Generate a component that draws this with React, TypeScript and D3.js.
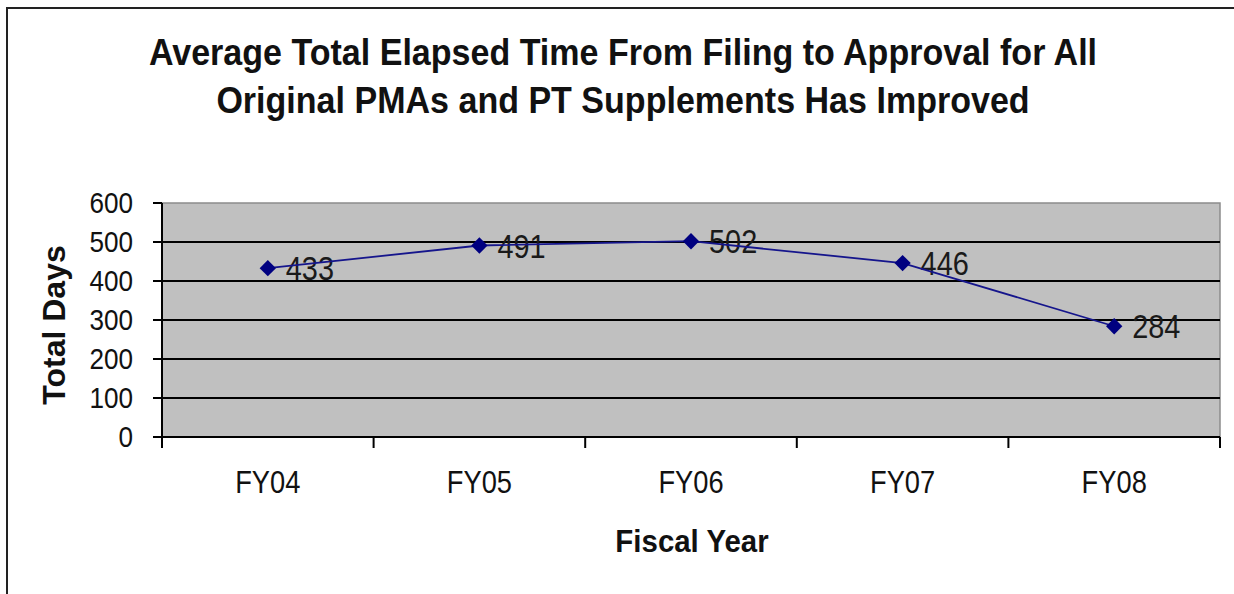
import * as d3 from "d3";
import * as React from "react";

const years = ["FY04", "FY05", "FY06", "FY07", "FY08"];
const totalDays = [433, 491, 502, 446, 284];
const yTicks = [0, 100, 200, 300, 400, 500, 600];

const titleLines = [
  "Average Total Elapsed Time From Filing to Approval for All",
  "Original PMAs and PT Supplements Has Improved",
];

const font = "'Liberation Sans', Arial, sans-serif";

export default function App() {
  const width = 1234,
    height = 594;
  const plot = { left: 162, right: 1220, top: 203, bottom: 437 };

  const x = d3
    .scaleBand<string>()
    .domain(years)
    .range([plot.left, plot.right]);
  const y = d3.scaleLinear().domain([0, 600]).range([plot.bottom, plot.top]);

  const cx = (d: string) => (x(d) as number) + x.bandwidth() / 2;

  const line = d3
    .line<number>()
    .x((d, i) => cx(years[i]))
    .y((d) => y(d));

  const diamond = d3.symbol().type(d3.symbolDiamond2).size(170)();

  // band edges for the category ticks
  const xEdges = years.map((d) => x(d) as number).concat([plot.right]);

  return (
    <svg
      width={width}
      height={height}
      style={{ position: "absolute", left: 0, top: 0, background: "#fff" }}
      fontFamily={font}
    >
      {/* outer chart frame */}
      <rect x={7} y={8} width={1300} height={700} fill="none" stroke="#222" strokeWidth={2} />

      {/* title */}
      {titleLines.map((t, i) => (
        <text
          key={t}
          transform={`translate(623,${65 + i * 48}) scale(0.92,1)`}
          textAnchor="middle"
          fontSize={37}
          fontWeight="bold"
          fill="#111"
        >
          {t}
        </text>
      ))}

      {/* plot area */}
      <rect
        x={plot.left}
        y={plot.top}
        width={plot.right - plot.left}
        height={plot.bottom - plot.top}
        fill="#c0c0c0"
        stroke="#8c8c8c"
        strokeWidth={1.5}
      />

      {/* gridlines */}
      {yTicks
        .filter((t) => t > 0 && t < 600)
        .map((t) => (
          <line key={t} x1={plot.left} x2={plot.right} y1={y(t)} y2={y(t)} stroke="#000" strokeWidth={2} />
        ))}

      {/* y axis */}
      <line x1={plot.left} x2={plot.left} y1={plot.top} y2={plot.bottom} stroke="#000" strokeWidth={2} />
      {yTicks.map((t) => (
        <g key={t}>
          <line x1={plot.left - 9} x2={plot.left} y1={y(t)} y2={y(t)} stroke="#000" strokeWidth={2} />
          <text
            transform={`translate(133,${y(t) + 10}) scale(0.87,1)`}
            textAnchor="end"
            fontSize={30}
            fill="#111"
          >
            {t}
          </text>
        </g>
      ))}

      {/* x axis */}
      <line x1={plot.left} x2={plot.right} y1={plot.bottom} y2={plot.bottom} stroke="#000" strokeWidth={2} />
      {xEdges.map((e, i) => (
        <line key={i} x1={e} x2={e} y1={plot.bottom} y2={plot.bottom + 11} stroke="#000" strokeWidth={2} />
      ))}
      {years.map((d) => (
        <text
          key={d}
          transform={`translate(${cx(d)},493) scale(0.88,1)`}
          textAnchor="middle"
          fontSize={31}
          fill="#111"
        >
          {d}
        </text>
      ))}

      {/* axis titles */}
      <text
        transform="translate(692,552) scale(0.95,1)"
        textAnchor="middle"
        fontSize={31}
        fontWeight="bold"
        fill="#111"
      >
        Fiscal Year
      </text>
      <text
        transform="translate(65,325) rotate(-90)"
        textAnchor="middle"
        fontSize={32}
        fontWeight="bold"
        fill="#111"
      >
        Total Days
      </text>

      {/* data labels */}
      {totalDays.map((v, i) => (
        <text
          key={i}
          transform={`translate(${cx(years[i]) + 18},${y(v) + 12}) scale(0.85,1)`}
          fontSize={34}
          fill="#1a1a1a"
        >
          {v}
        </text>
      ))}

      {/* series */}
      <path d={line(totalDays) as string} fill="none" stroke="#15158c" strokeWidth={1.8} />
      {totalDays.map((v, i) => (
        <path key={i} d={diamond as string} transform={`translate(${cx(years[i])},${y(v)})`} fill="#000080" />
      ))}
    </svg>
  );
}
